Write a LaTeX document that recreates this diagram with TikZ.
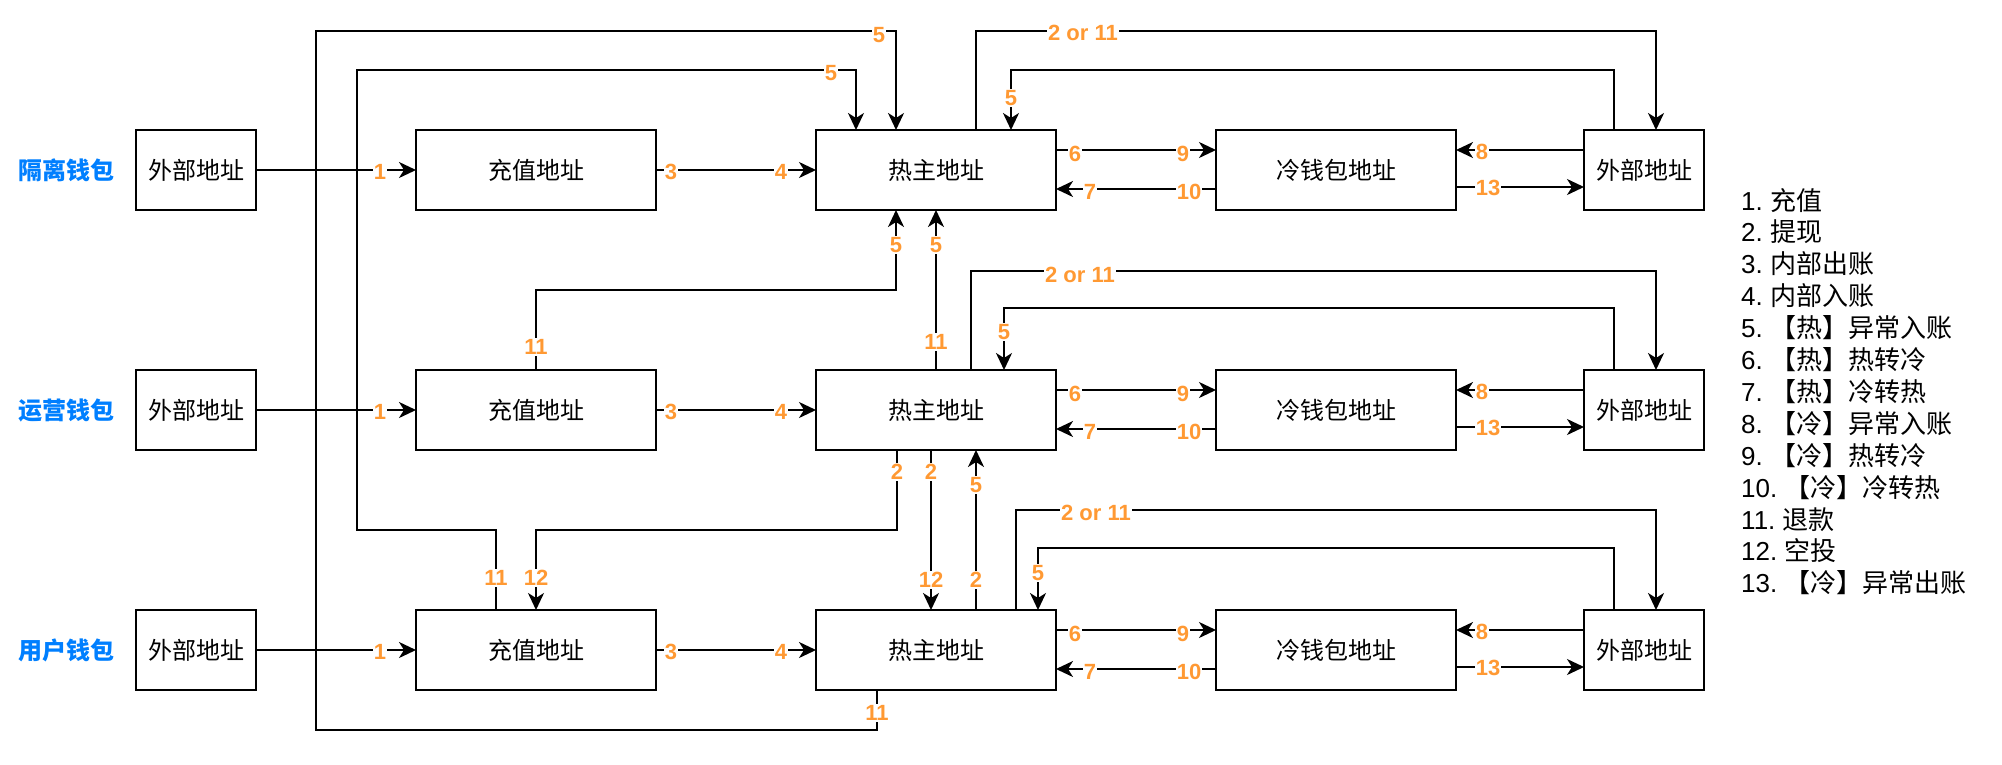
\documentclass[tikz,border=0pt]{standalone}
\usepackage{fontspec}
\setmainfont{Liberation Sans}
\newfontfamily\cjk{Noto Sans CJK SC}
\usetikzlibrary{arrows.meta}
\definecolor{numorange}{HTML}{FF9933}
\definecolor{walletblue}{HTML}{007FFF}

\begin{document}
\begin{tikzpicture}[x=1pt,y=-1pt,
  box/.style={draw=black, line width=2pt, minimum height=80pt, inner sep=0pt, outer sep=0pt,
              font=\cjk\fontsize{24}{28}\selectfont},
  extbox/.style={box, minimum width=120pt},
  widebox/.style={box, minimum width=240pt},
  wallet/.style={text=walletblue, inner sep=0pt, font=\cjk\bfseries\fontsize{24}{28}\selectfont},
  flow/.style={draw=black, line width=2pt, -{Stealth[length=17pt,width=16pt,inset=5pt]}},
  num/.style={text=numorange, fill=white, inner sep=1pt, font=\bfseries\fontsize{22}{26}\selectfont},
  keyitem/.style={anchor=base west, inner sep=0pt, font=\fontsize{26}{32}\selectfont}
]
\useasboundingbox (0,0) rectangle (2002,764);

% wallets: one row of address boxes each
\foreach \r/\y/\w in {1/170/隔离钱包, 2/410/运营钱包, 3/650/用户钱包} {
  \node[wallet]  (wal\r)  at (66,\y)   {\w};
  \node[extbox]  (ext\r)  at (196,\y)  {外部地址};
  \node[widebox] (chg\r)  at (536,\y)  {充值地址};
  \node[widebox] (hot\r)  at (936,\y)  {热主地址};
  \node[widebox] (cold\r) at (1336,\y) {冷钱包地址};
  \node[extbox]  (xr\r)   at (1644,\y) {外部地址};
}

% flows inside each row
\foreach \r in {1,2,3} {
  \draw[flow] (ext\r) -- (chg\r);
  \draw[flow] (chg\r) -- (hot\r);
  \draw[flow] ([yshift=20pt]hot\r.east) -- ([yshift=20pt]cold\r.west);
  \draw[flow] ([yshift=-19pt]cold\r.west) -- ([yshift=-19pt]hot\r.east);
  \draw[flow] ([yshift=20pt]xr\r.west) -- ([yshift=20pt]cold\r.east);
  \draw[flow] ([yshift=-17pt]cold\r.east) -- ([yshift=-17pt]xr\r.west);
}

% withdrawals / refunds to the outside, and abnormal deposits back
\draw[flow] ([xshift=40pt]hot1.north) -- ++(0,-99) -| ([xshift=12pt]xr1.north);
\draw[flow] ([xshift=-30pt]xr1.north) -- ++(0,-60) -| ([xshift=75pt]hot1.north);
\draw[flow] ([xshift=35pt]hot2.north) -- ++(0,-99) -| ([xshift=12pt]xr2.north);
\draw[flow] ([xshift=-30pt]xr2.north) -- ++(0,-62) -| ([xshift=68pt]hot2.north);
\draw[flow] ([xshift=80pt]hot3.north) -- ++(0,-100) -| ([xshift=12pt]xr3.north);
\draw[flow] ([xshift=-30pt]xr3.north) -- ++(0,-62) -| ([xshift=102pt]hot3.north);

% flows between wallets
\draw[flow] ([xshift=-59pt]hot3.south) -- ++(0,40) -| (316,31) -| ([xshift=-40pt]hot1.north);
\draw[flow] ([xshift=-40pt]chg3.north) -- ++(0,-80) -| (357,70) -| ([xshift=-80pt]hot1.north);
\draw[flow] (chg2.north) -- ++(0,-80) -| ([xshift=-40pt]hot1.south);
\draw[flow] (hot2) -- (hot1);
\draw[flow] ([xshift=-39pt]hot2.south) -- ++(0,80) -| (chg3.north);
\draw[flow] ([xshift=-5pt]hot2.south) -- ([xshift=-5pt]hot3.north);
\draw[flow] ([xshift=40pt]hot3.north) -- ([xshift=40pt]hot2.south);

% step numbers on the flows of each row
\foreach \r/\dy in {1/0, 2/240, 3/480} {
  \node[num] (s1-\r)  at (380, 172+\dy)  {1};
  \node[num] (s3-\r)  at (671, 172+\dy)  {3};
  \node[num] (s4-\r)  at (781, 172+\dy)  {4};
  \node[num] (s6-\r)  at (1075, 154+\dy) {6};
  \node[num] (s9-\r)  at (1183, 154+\dy) {9};
  \node[num] (s7-\r)  at (1090, 192+\dy) {7};
  \node[num] (s10-\r) at (1189, 192+\dy) {10};
  \node[num] (s8-\r)  at (1482, 152+\dy) {8};
  \node[num] (s13-\r) at (1488, 188+\dy) {13};
}

% step numbers on the routed flows
\node[num] (t-a) at (879,35)   {5};
\node[num] (t-b) at (831,73)   {5};
\node[num] (t-c) at (1083,33)  {2 or 11};
\node[num] (t-d) at (1011,98)  {5};
\node[num] (t-e) at (896,245)  {5};
\node[num] (t-f) at (536,347)  {11};
\node[num] (t-g) at (936,245)  {5};
\node[num] (t-h) at (936,342)  {11};
\node[num] (t-i) at (1080,275) {2 or 11};
\node[num] (t-j) at (1004,332) {5};
\node[num] (t-k) at (897,472)  {2};
\node[num] (t-l) at (931,472)  {2};
\node[num] (t-m) at (976,485)  {5};
\node[num] (t-n) at (536,578)  {12};
\node[num] (t-o) at (496,578)  {11};
\node[num] (t-p) at (931,580)  {12};
\node[num] (t-q) at (976,580)  {2};
\node[num] (t-r) at (1096,513) {2 or 11};
\node[num] (t-s) at (1038,573) {5};
\node[num] (t-t) at (877,713)  {11};

% key to the step numbers
\foreach \i/\a/\b in {1/1./充值, 2/2./提现, 3/3./内部出账, 4/4./内部入账,
                      5/5./【热】异常入账, 6/6./【热】热转冷, 7/7./【热】冷转热,
                      8/8./【冷】异常入账, 9/9./【冷】热转冷, 10/10./【冷】冷转热,
                      11/11./退款, 12/12./空投, 13/13./【冷】异常出账} {
  \node[keyitem] (key\i) at (1741, {210+31.9*(\i-1)}) {\a\ {\cjk \b}};
}
\end{tikzpicture}
\end{document}
